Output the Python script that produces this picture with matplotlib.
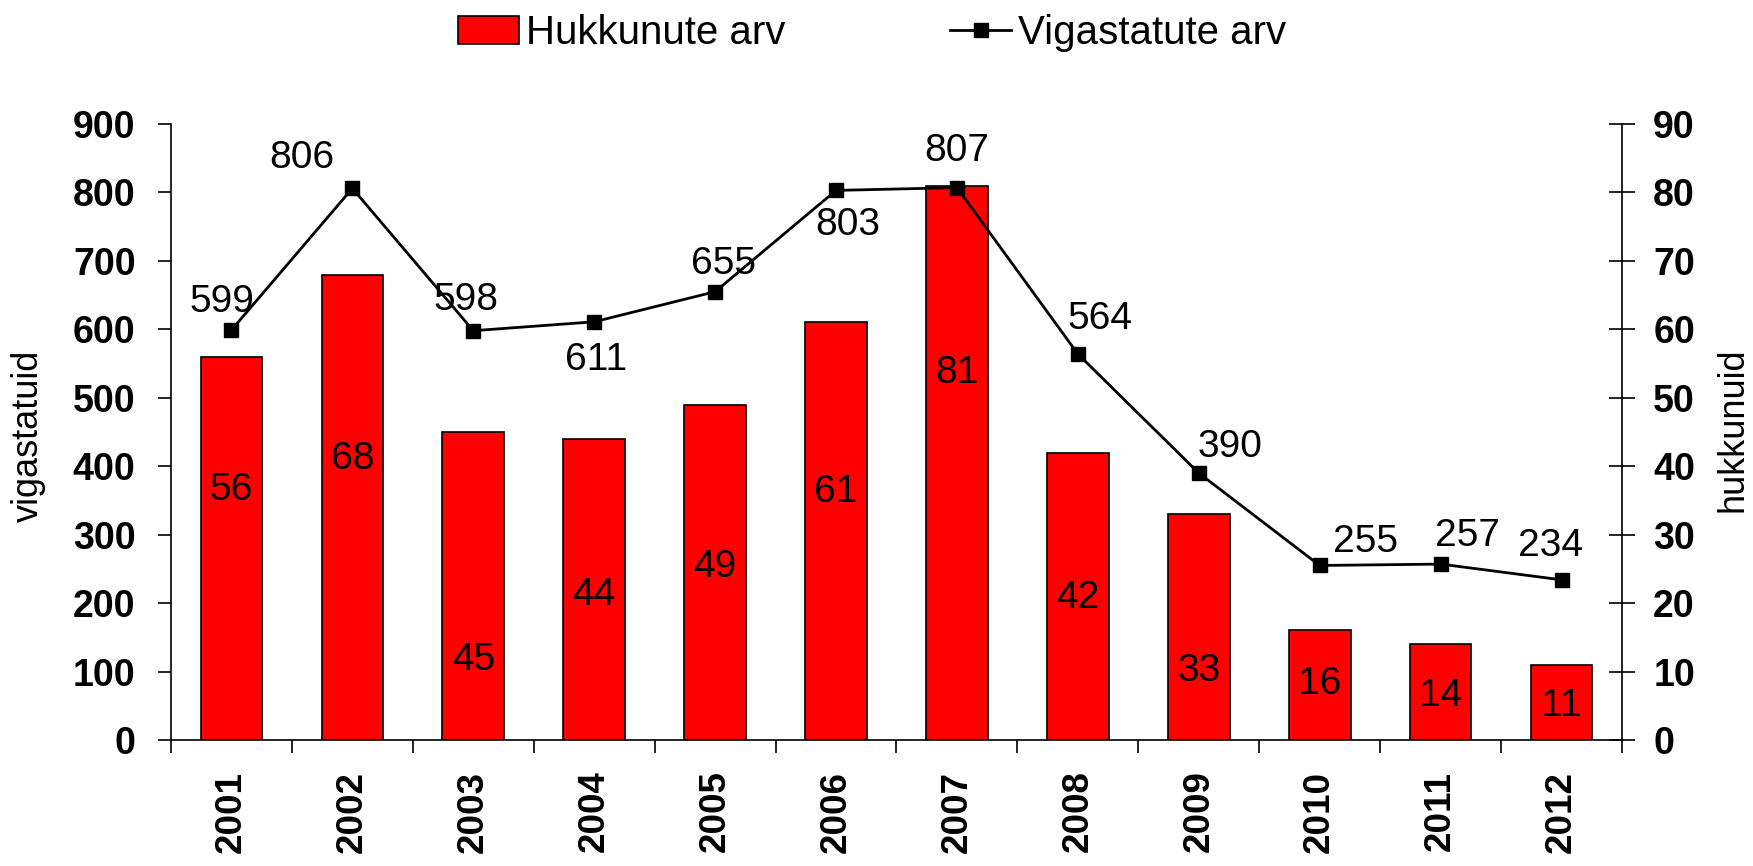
import matplotlib
matplotlib.use("Agg")
import matplotlib.pyplot as plt
from matplotlib.patches import Patch
from matplotlib.lines import Line2D
import numpy as np

plt.rcParams['font.family'] = ['Liberation Sans', 'DejaVu Sans']

years = ['2001', '2002', '2003', '2004', '2005', '2006', '2007', '2008', '2009', '2010', '2011', '2012']
hukkunuid = [56, 68, 45, 44, 49, 61, 81, 42, 33, 16, 14, 11]
vigastatuid = [599, 806, 598, 611, 655, 803, 807, 564, 390, 255, 257, 234]

# layout: vertical positions (right-axis units) of bar labels, offsets (px) of line labels
bar_label_y = [36.5, 41, 11.7, 21.2, 25.3, 36.2, 53.6, 20.7, 10.1, 8.2, 6.4, 4.9]
line_label_off = [(-10, 28), (-51, 30), (-7, 31), (2, -38), (8, 28), (12, -35),
                  (0, 37), (22, 35), (31, 26), (46, 23), (27, 28), (-11, 34)]

W, H = 1753, 866
fig = plt.figure(figsize=(W / 100, H / 100), dpi=100)
L, R, T, B = 171, 1622, 124, 740
ax = fig.add_axes([L / W, 1 - B / H, (R - L) / W, (B - T) / H])
ax2 = ax.twinx()

x = np.arange(len(years))

# bars on right axis
ax2.bar(x, hukkunuid, width=0.51, color='#FF0000', edgecolor='black', linewidth=1.2, zorder=2)
for xi, v, yl in zip(x, hukkunuid, bar_label_y):
    ax2.text(xi, yl, str(v), ha='center', va='center', fontsize=28, color='black')
ax2.set_ylim(0, 90)
ax2.set_yticks(np.arange(0, 91, 10))
ax2.tick_params(axis='y', direction='inout', length=19, width=1.2, pad=13,
                labelsize=27)
for lab in ax2.get_yticklabels():
    lab.set_fontweight('bold')

# line on left axis, drawn above bars
ax.set_zorder(ax2.get_zorder() + 1)
ax.patch.set_visible(False)
ax.plot(x, vigastatuid, color='black', linewidth=2.0, marker='s', markersize=9.4, zorder=3)
for xi, v, off in zip(x, vigastatuid, line_label_off):
    ax.annotate(str(v), (xi, v), xytext=off, textcoords='offset pixels',
                ha='center', va='center', fontsize=28)
ax.set_ylim(0, 900)
ax.set_yticks(np.arange(0, 901, 100))
ax.tick_params(axis='y', direction='out', length=9.5, width=1.2, pad=16, labelsize=27)
for lab in ax.get_yticklabels():
    lab.set_fontweight('bold')

fig.text(28 / W, 1 - 436 / H, 'vigastatuid', rotation=90, ha='center', va='center', fontsize=26)
fig.text(1733 / W, 1 - 430 / H, 'hukkunuid', rotation=90, ha='center', va='center', fontsize=26)

ax.set_xlim(-0.5, len(years) - 0.5)
ax.set_xticks(x)
ax.set_xticklabels(years, rotation=90, fontsize=26.5, fontweight='bold')
ax.tick_params(axis='x', length=0, pad=22)
ax.set_xticks(np.arange(-0.5, len(years), 1.0), minor=True)
ax.tick_params(axis='x', which='minor', direction='out', length=9.5, width=1.2)

for a in (ax, ax2):
    a.spines['top'].set_visible(False)
    for s in ('left', 'right', 'bottom'):
        a.spines[s].set_linewidth(1.2)
ax.spines['right'].set_visible(False)
ax2.spines['left'].set_visible(False)
ax2.spines['bottom'].set_visible(False)

handles = [Patch(facecolor='#FF0000', edgecolor='black', linewidth=1.2),
           Line2D([], [], color='black', linewidth=2.0, marker='s', markersize=9.4)]
fig.legend(handles, ['Hukkunute arv', 'Vigastatute arv'], loc='center',
           bbox_to_anchor=(0.4975, 1 - 33 / H), ncol=2, frameon=False, fontsize=29,
           handlelength=1.51, handleheight=0.7, handletextpad=0.17, columnspacing=4.1,
           borderpad=0, borderaxespad=0)

fig.savefig('out.png', dpi=100)
